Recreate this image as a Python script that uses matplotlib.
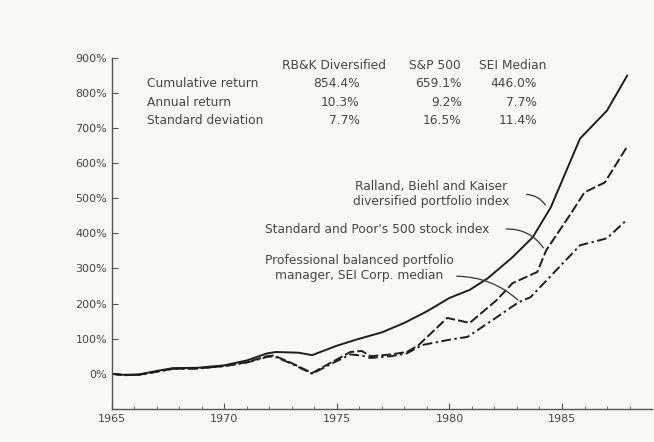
import matplotlib
matplotlib.use("Agg")
import matplotlib.pyplot as plt

plt.rcParams['font.family'] = ['DejaVu Sans']

# Datos (rendimiento acumulado, %)
rbk_years = [1965.0, 1965.5, 1966.2, 1967.0, 1967.7, 1968.8, 1970.0, 1971.0, 1971.9, 1972.3,
             1973.3, 1973.9, 1975.0, 1975.9, 1977.0, 1978.0, 1979.0, 1980.0, 1980.9, 1981.7,
             1982.8, 1983.7, 1984.5, 1985.8, 1987.0, 1987.9]
rbk_values = [0, -3, -2, 8, 16, 17, 24, 38, 58, 62,
              60, 53, 80, 98, 118, 145, 178, 216, 239, 272,
              332, 389, 474, 670, 750, 850]

sp_years = [1965.0, 1965.5, 1966.2, 1967.0, 1967.7, 1968.8, 1970.0, 1971.0, 1971.9, 1972.2,
            1973.0, 1973.9, 1974.8, 1975.6, 1976.1, 1976.5, 1977.4, 1978.1, 1978.6, 1979.9,
            1980.9, 1982.1, 1982.8, 1983.9, 1984.3, 1985.4, 1986.0, 1986.9, 1987.9]
sp_values = [0, -4, -3, 6, 14, 15, 22, 33, 50, 52,
             30, 2, 34, 62, 65, 50, 55, 62, 80, 159,
             145, 210, 258, 290, 352, 457, 517, 545, 648]

sei_years = [1965.0, 1965.5, 1966.2, 1967.0, 1967.7, 1968.8, 1970.0, 1971.0, 1971.9, 1972.2,
             1973.0, 1973.9, 1974.8, 1975.6, 1976.1, 1976.5, 1977.4, 1978.1, 1978.8, 1980.0,
             1980.8, 1981.8, 1983.1, 1983.6, 1985.8, 1987.0, 1987.9]
sei_values = [0, -4, -3, 6, 14, 15, 22, 32, 48, 50,
              28, 0, 30, 55, 52, 45, 50, 58, 82, 97,
              105, 148, 205, 218, 366, 386, 440]

col_headers = ["RB&K Diversified", "S&P 500", "SEI Median"]
row_labels = ["Cumulative return", "Annual return", "Standard deviation"]
rbk_stats = ["854.4%", "10.3%", "7.7%"]
sp_stats = ["659.1%", "9.2%", "16.5%"]
sei_stats = ["446.0%", "7.7%", "11.4%"]

ink = '#1e1e1e'
txt = '#454545'

fig = plt.figure(figsize=(6.54, 4.42), dpi=100, facecolor='#f8f8f6')
ax = fig.add_axes([0.171, 0.075, 0.826, 0.794])
ax.set_facecolor('#f8f8f6')

ax.plot(rbk_years, rbk_values, color=ink, lw=1.4, solid_capstyle='round')
ax.plot(sp_years, sp_values, color=ink, lw=1.4, linestyle=(0, (5, 1.6)))
ax.plot(sei_years, sei_values, color=ink, lw=1.4, linestyle=(0, (5, 1.8, 1.2, 1.8)))

ax.set_xlim(1965, 1989)
ax.set_ylim(-100, 900)
ax.set_yticks(range(0, 901, 100))
ax.set_yticklabels([f"{v}%" for v in range(0, 901, 100)])
ax.set_xticks(range(1965, 1986, 5))
ax.set_xticks(range(1965, 1989), minor=True)

for s in ['top', 'right']:
    ax.spines[s].set_visible(False)
for s in ['left', 'bottom']:
    ax.spines[s].set_color('#555555')
    ax.spines[s].set_linewidth(1.0)
ax.tick_params(axis='both', which='major', direction='in', length=4, color='#555555',
               labelsize=8, labelcolor=txt)
ax.tick_params(axis='x', which='minor', direction='in', length=2.5, color='#555555')

# Tabla de estadisticas
fs = 8.8
col_x = [1976.0, 1980.55, 1983.9]
head_x = [1974.85, 1979.35, 1982.8]
row_y = [827, 773, 722]
for hx, h in zip(head_x, col_headers):
    ax.text(hx, 878, h, ha='center', va='center', fontsize=fs, color=txt)
for ry, lab in zip(row_y, row_labels):
    ax.text(1966.55, ry, lab, ha='left', va='center', fontsize=fs, color=txt)
for cx, stats in zip(col_x, [rbk_stats, sp_stats, sei_stats]):
    for ry, val in zip(row_y, stats):
        ax.text(cx, ry, val, ha='right', va='center', fontsize=fs, color=txt)

# Etiquetas de las series
ax.text(1979.2, 513, "Ralland, Biehl and Kaiser\ndiversified portfolio index",
        ha='center', va='center', fontsize=fs, color=txt, linespacing=1.2)
ax.text(1976.8, 412, "Standard and Poor's 500 stock index",
        ha='center', va='center', fontsize=fs, color=txt)
ax.text(1976.0, 301, "Professional balanced portfolio\nmanager, SEI Corp. median",
        ha='center', va='center', fontsize=fs, color=txt, linespacing=1.2)

conn = dict(arrowstyle='-', color='#333333', lw=0.9)
ax.annotate('', xy=(1984.33, 474), xytext=(1983.3, 511),
            arrowprops=dict(conn, connectionstyle='arc3,rad=-0.3'))
ax.annotate('', xy=(1984.24, 352), xytext=(1982.4, 412),
            arrowprops=dict(conn, connectionstyle='arc3,rad=-0.3'))
ax.annotate('', xy=(1983.13, 205), xytext=(1980.2, 278),
            arrowprops=dict(conn, connectionstyle='arc3,rad=-0.2'))

fig.savefig("out.png", dpi=100, facecolor=fig.get_facecolor())
